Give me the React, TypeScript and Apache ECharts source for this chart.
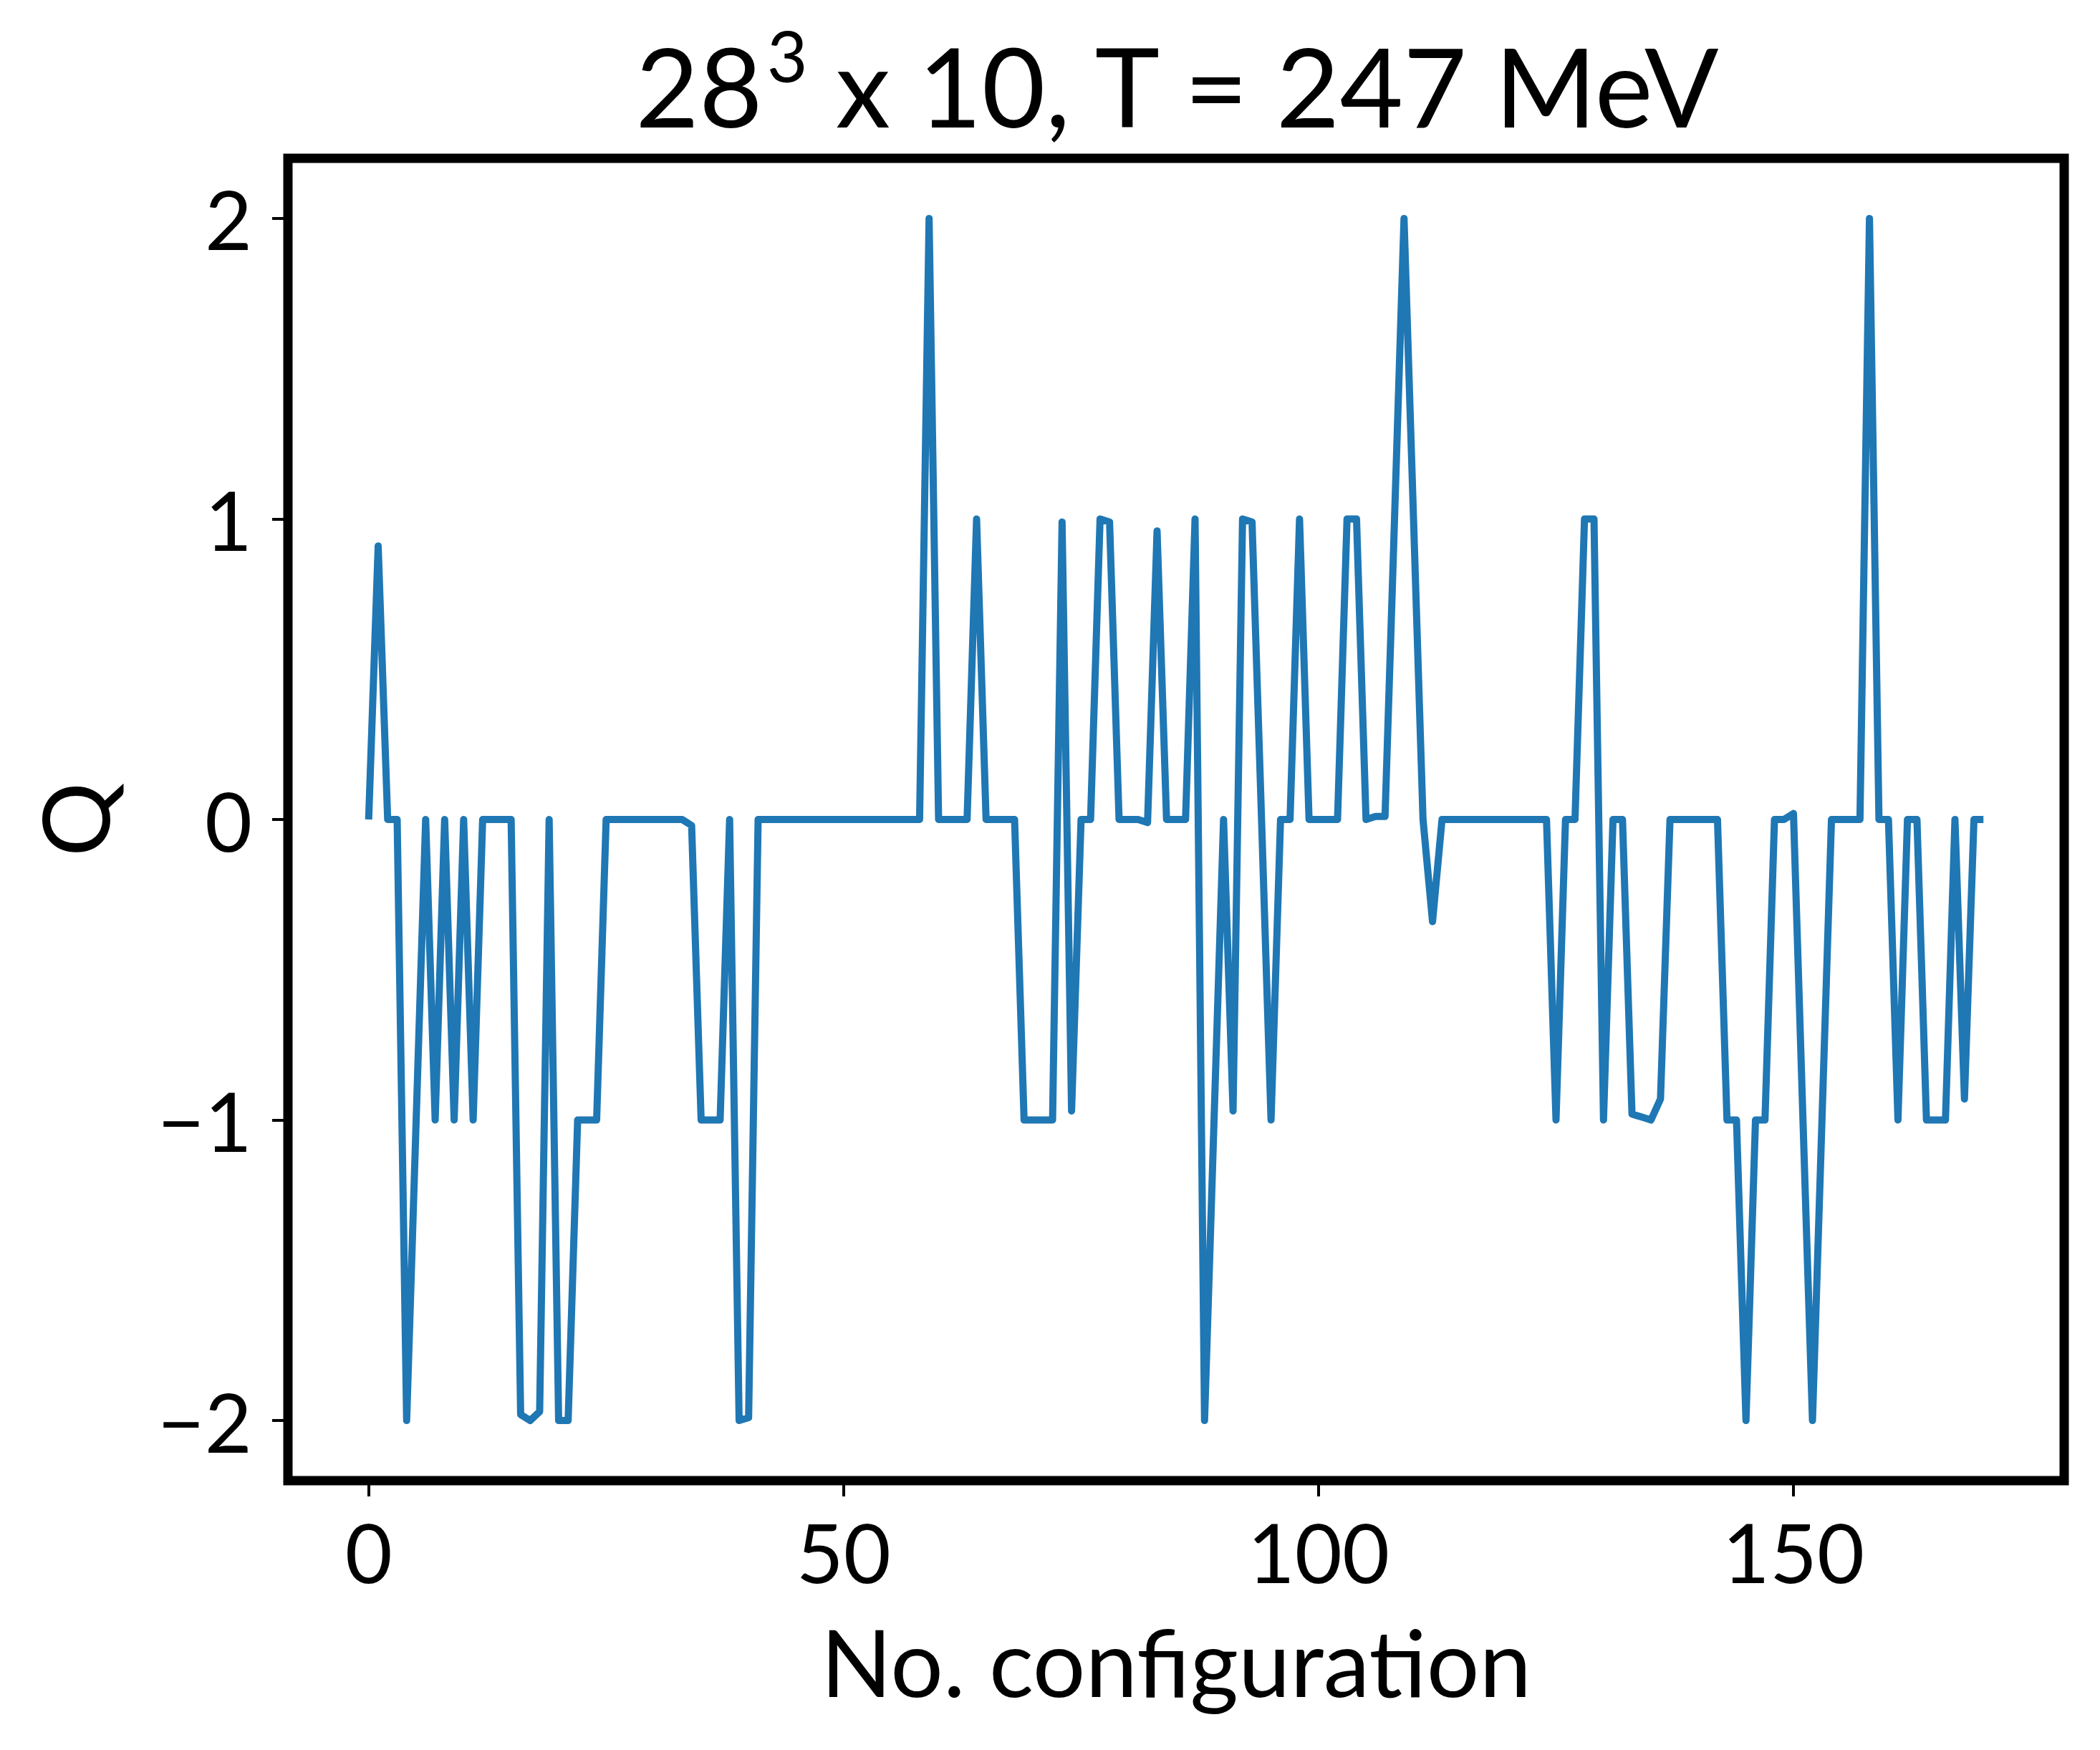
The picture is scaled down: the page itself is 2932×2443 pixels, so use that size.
import React, { useEffect, useRef } from "react";
import * as echarts from "echarts";

const qValues: number[] = [
  0, 0.91, 0, 0, -2, -1, 0, -1, 0, -1,
  0, -1, 0, 0, 0, 0, -1.98, -2.0, -1.97, 0,
  -2, -2, -1, -1, -1, 0, 0, 0, 0, 0,
  0, 0, 0, 0, -0.02, -1, -1, -1, 0, -2,
  -1.99, 0, 0, 0, 0, 0, 0, 0, 0, 0,
  0, 0, 0, 0, 0, 0, 0, 0, 0, 2,
  0, 0, 0, 0, 1, 0, 0, 0, 0, -1,
  -1, -1, -1, 0.99, -0.97, 0, 0, 1, 0.99, 0,
  0, 0, -0.01, 0.96, 0, 0, 0, 1, -2, -1,
  0, -0.97, 1, 0.99, 0, -1, 0, 0, 1, 0,
  0, 0, 0, 1, 1, 0, 0.01, 0.01, 1, 2,
  1, 0, -0.34, 0, 0, 0, 0, 0, 0, 0,
  0, 0, 0, 0, 0, -1, 0, 0, 1, 1,
  -1, 0, 0, -0.98, -0.99, -1, -0.93, 0, 0, 0,
  0, 0, 0, -1, -1, -2, -1, -1, 0, 0,
  0.02, -1, -2, -1, 0, 0, 0, 0, 2, 0,
  0, -1, 0, 0, -1, -1, -1, 0, -0.93, 0,
  0,
];

const xTicks: number[] = [0, 50, 100, 150];
const xTickLabels: string[] = ["0", "50", "100", "150"];
const yTicks: number[] = [-2, -1, 0, 1, 2];
const yTickLabels: string[] = ["\u22122", "\u22121", "0", "1", "2"];

const titleMain1 = "28";
const titleSup = "3";
const titleMain2 = " x 10, T = 247 MeV";
const xName = "No. configuration";
const yName = "Q";

const FONT = "Lato";
const TITLE_FS = 153;
const SUP_FS = 98;

function textWidth(s: string, fs: number): number {
  const c = document.createElement("canvas").getContext("2d");
  if (!c) return s.length * fs * 0.55;
  c.font = `${fs}px ${FONT}`;
  return c.measureText(s).width;
}

export default function App() {
  const ref = useRef<HTMLDivElement>(null);
  useEffect(() => {
    document.body.style.margin = "0";
    const chart = echarts.init(ref.current!, null, { renderer: "svg" });
    const data = qValues.map((q, i) => [i, q]);

    const w1 = textWidth(titleMain1, TITLE_FS);
    const gap = 6;
    const w2 = textWidth(titleSup, SUP_FS);
    const w3 = textWidth(titleMain2, TITLE_FS);
    const total = w1 + gap + w2 + w3;
    const titleCenter = 1648;
    const x0 = titleCenter - total / 2;
    const mainY = 119;
    const supY = 77;

    chart.setOption({
      animation: false,
      backgroundColor: "#ffffff",
      grid: {
        left: 402,
        right: 50,
        top: 221,
        bottom: 376,
        show: true,
        borderColor: "#000000",
        borderWidth: 13,
        backgroundColor: "transparent",
      },
      xAxis: {
        type: "value",
        min: -8.5,
        max: 178.5,
        splitLine: { show: false },
        axisLine: { show: false, onZero: false },
        axisTick: {
          show: true,
          length: 22,
          customValues: xTicks,
          lineStyle: { color: "#000", width: 4 },
        },
        axisLabel: {
          customValues: xTicks,
          formatter: (v: number) => xTickLabels[xTicks.indexOf(v)] ?? "",
          fontFamily: FONT,
          fontSize: 114,
          color: "#000",
          margin: 98,
          verticalAlign: "middle",
        },
        name: xName,
        nameLocation: "middle",
        nameGap: 252,
        nameTextStyle: {
          fontFamily: FONT,
          fontSize: 130,
          color: "#000",
          verticalAlign: "middle",
        },
      },
      yAxis: {
        type: "value",
        min: -2.2,
        max: 2.2,
        splitLine: { show: false },
        axisLine: { show: false, onZero: false },
        axisTick: {
          show: true,
          length: 22,
          customValues: yTicks,
          lineStyle: { color: "#000", width: 4 },
        },
        axisLabel: {
          customValues: yTicks,
          formatter: (v: number) => yTickLabels[yTicks.indexOf(v)] ?? "",
          fontFamily: FONT,
          fontSize: 114,
          color: "#000",
          margin: 50,
        },
        name: yName,
        nameLocation: "middle",
        nameGap: 299,
        nameTextStyle: {
          fontFamily: FONT,
          fontSize: 130,
          color: "#000",
          verticalAlign: "middle",
        },
      },
      graphic: [
        {
          type: "text",
          x: x0,
          y: mainY,
          style: {
            text: titleMain1,
            fontFamily: FONT,
            fontSize: TITLE_FS,
            fill: "#000",
            align: "left",
            verticalAlign: "middle",
          },
        },
        {
          type: "text",
          x: x0 + w1 + gap,
          y: supY,
          style: {
            text: titleSup,
            fontFamily: FONT,
            fontSize: SUP_FS,
            fill: "#000",
            align: "left",
            verticalAlign: "middle",
          },
        },
        {
          type: "text",
          x: x0 + w1 + gap + w2,
          y: mainY,
          style: {
            text: titleMain2,
            fontFamily: FONT,
            fontSize: TITLE_FS,
            fill: "#000",
            align: "left",
            verticalAlign: "middle",
          },
        },
      ],
      series: [
        {
          type: "line",
          data,
          showSymbol: false,
          symbol: "none",
          lineStyle: { color: "#1f77b4", width: 10, join: "round" },
          z: 3,
        },
      ],
    });
    return () => chart.dispose();
  }, []);
  return (
    <div
      ref={ref}
      style={{ position: "absolute", left: 0, top: 0, width: 2932, height: 2443 }}
    />
  );
}
